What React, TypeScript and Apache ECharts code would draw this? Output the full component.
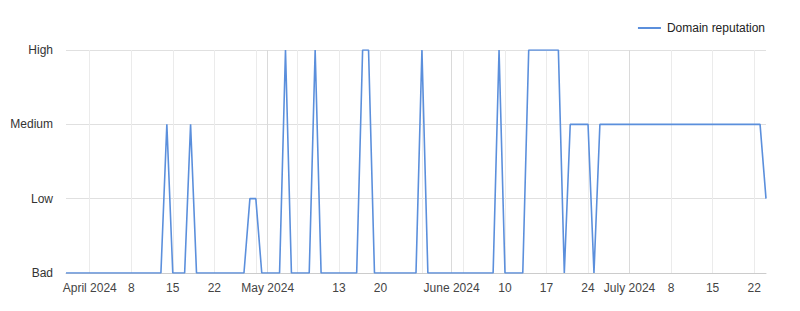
import { useEffect, useRef } from 'react';
import * as echarts from 'echarts';

const levels = ['Bad', 'Low', 'Medium', 'High'];
const seriesName = 'Domain reputation';
const startDate = '2024-03-28';
const dayCount = 119;

// daily reputation level index (0 = Bad, 1 = Low, 2 = Medium, 3 = High), 2024-03-28 .. 2024-07-24
const reputation = [
  0, 0, 0, 0, 0, 0, 0, 0, 0, 0, 0, 0, 0, 0, 0, 0, 0, 2, 0, 0,
  0, 2, 0, 0, 0, 0, 0, 0, 0, 0, 0, 1, 1, 0, 0, 0, 0, 3, 0, 0,
  0, 0, 3, 0, 0, 0, 0, 0, 0, 0, 3, 3, 0, 0, 0, 0, 0, 0, 0, 0,
  3, 0, 0, 0, 0, 0, 0, 0, 0, 0, 0, 0, 0, 3, 0, 0, 0, 0, 3, 3,
  3, 3, 3, 3, 0, 2, 2, 2, 2, 0, 2, 2, 2, 2, 2, 2, 2, 2, 2, 2,
  2, 2, 2, 2, 2, 2, 2, 2, 2, 2, 2, 2, 2, 2, 2, 2, 2, 2, 1,
];

const labelDates = [
  '2024-04-01', '2024-04-08', '2024-04-15', '2024-04-22', '2024-05-01',
  '2024-05-13', '2024-05-20', '2024-06-01', '2024-06-10', '2024-06-17',
  '2024-06-24', '2024-07-01', '2024-07-08', '2024-07-15', '2024-07-22',
];
const labelTexts = [
  'April 2024', '8', '15', '22', 'May 2024',
  '13', '20', 'June 2024', '10', '17',
  '24', 'July 2024', '8', '15', '22',
];
const weekGridDates = [
  '2024-04-01', '2024-04-08', '2024-04-15', '2024-04-22', '2024-04-29',
  '2024-05-06', '2024-05-13', '2024-05-20', '2024-05-27', '2024-06-03',
  '2024-06-10', '2024-06-17', '2024-06-24', '2024-07-08', '2024-07-15',
  '2024-07-22',
];
const monthGridDates = ['2024-05-01', '2024-06-01', '2024-07-01'];

function buildDates(): string[] {
  const out: string[] = [];
  const base = new Date(startDate + 'T00:00:00Z').getTime();
  for (let i = 0; i < dayCount; i++) {
    out.push(new Date(base + i * 86400000).toISOString().slice(0, 10));
  }
  return out;
}

const FONT = '"Liberation Sans", Arial, sans-serif';
const LINE_COLOR = '#5b8fdc';

export default function App() {
  const ref = useRef<HTMLDivElement>(null);
  useEffect(() => {
    if (!ref.current) return;
    const chart = echarts.init(ref.current, null, { renderer: 'svg' });
    const dates = buildDates();
    chart.setOption({
      animation: false,
      textStyle: { fontFamily: FONT },
      legend: {
        data: [{ name: seriesName, icon: 'rect' }],
        right: 30,
        top: 17,
        itemWidth: 23,
        itemHeight: 2,
        itemGap: 5,
        textStyle: { fontSize: 12, color: '#222', fontFamily: FONT, padding: [0, 0, 0, 1] },
      },
      grid: { left: 66, right: 34, top: 50, bottom: 38 },
      xAxis: [
        {
          type: 'category',
          data: dates,
          boundaryGap: false,
          axisLine: { show: true, lineStyle: { color: '#cccccc', width: 1 } },
          axisTick: { show: false },
          axisLabel: {
            interval: (_i: number, v: string) => labelDates.includes(v),
            formatter: (v: string) => {
              const k = labelDates.indexOf(v);
              return k >= 0 ? labelTexts[k] : '';
            },
            color: '#444',
            fontSize: 12,
            margin: 9,
            fontFamily: FONT,
          },
          splitLine: {
            show: true,
            interval: (_i: number, v: string) => weekGridDates.includes(v),
            lineStyle: { color: '#ebebeb', width: 1 },
          },
        },
        {
          type: 'category',
          data: dates,
          boundaryGap: false,
          position: 'bottom',
          axisLine: { show: false },
          axisTick: { show: false },
          axisLabel: { show: false },
          splitLine: {
            show: true,
            interval: (_i: number, v: string) => monthGridDates.includes(v),
            lineStyle: { color: '#dadada', width: 1 },
          },
        },
      ],
      yAxis: {
        type: 'value',
        min: 0,
        max: 3,
        interval: 1,
        axisLine: { show: false },
        axisTick: { show: false },
        axisLabel: {
          formatter: (v: number) => levels[v] ?? '',
          color: '#333',
          fontSize: 12,
          margin: 13,
          fontFamily: FONT,
        },
        splitLine: { show: true, lineStyle: { color: '#e0e0e0', width: 1 } },
      },
      series: [
        {
          name: seriesName,
          type: 'line',
          data: reputation,
          symbol: 'none',
          lineStyle: { color: LINE_COLOR, width: 1.6 },
          itemStyle: { color: LINE_COLOR },
          z: 3,
        },
      ],
    });
    return () => chart.dispose();
  }, []);
  return (
    <div
      ref={ref}
      style={{ position: 'absolute', left: 0, top: 0, width: 800, height: 311 }}
    />
  );
}
